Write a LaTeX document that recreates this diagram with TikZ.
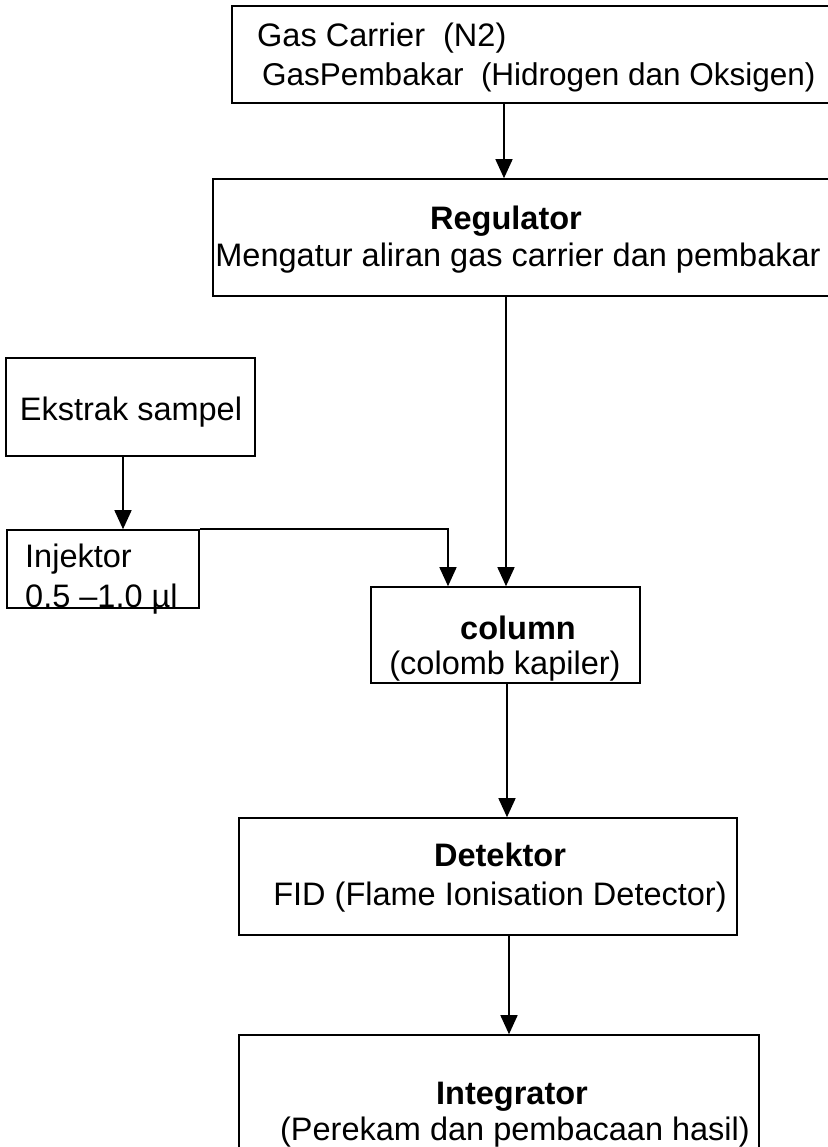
\documentclass[tikz,border=0pt]{standalone}
\usepackage{fontspec}
\setmainfont{Liberation Sans}
\usetikzlibrary{arrows.meta}
\begin{document}
\begin{tikzpicture}[x=1pt,y=-1pt,
  box/.style={draw,line width=1.6pt,rectangle,inner sep=0pt},
  txt/.style={inner sep=0pt,font=\fontsize{32.5}{37}\selectfont},
  hd/.style={txt,font=\fontsize{32.5}{37}\selectfont\bfseries},
  arr/.style={line width=1.5pt,-{Triangle[length=19pt,width=17pt]}},
  ln/.style={line width=1.5pt}]
\useasboundingbox[fill=white] (0,0) rectangle (827,1147);
% boxes
\node[box,minimum width=598,minimum height=97] (gas) at (531,54.5) {};
\node[box,minimum width=617,minimum height=117] (reg) at (521.5,237.5) {};
\node[box,minimum width=249,minimum height=98] (eks) at (130.5,407) {};
\node[box,minimum width=192,minimum height=78] (inj) at (103,569) {};
\node[box,minimum width=269,minimum height=96] (col) at (505.5,635) {};
\node[box,minimum width=498,minimum height=117] (det) at (488,876.5) {};
\node[box,minimum width=520,minimum height=125] (int) at (499,1097.5) {};
% texts
\node[txt,anchor=base west] (t1) at (257,47) {Gas Carrier\ \ (N2)};
\node[txt,anchor=base west,font=\fontsize{31.5}{37}\selectfont] (t2) at (262,86) {GasPembakar\ \ (Hidrogen dan Oksigen)};
\node[hd,anchor=base] (t3) at (506,230) {Regulator};
\node[txt,anchor=base] (t4) at (518,267) {Mengatur aliran gas carrier dan pembakar};
\node[txt,anchor=base] (t5) at (131,420) {Ekstrak sampel};
\node[txt,anchor=base west] (t6) at (25,567) {Injektor};
\node[txt,anchor=base west] (t7) at (25,607) {0.5 –1.0 µl};
\node[hd,anchor=base] (t8) at (518,639) {column};
\node[txt,anchor=base] (t9) at (505,674) {(colomb kapiler)};
\node[hd,anchor=base] (t10) at (500,866) {Detektor};
\node[txt,anchor=base] (t11) at (500,905) {FID (Flame Ionisation Detector)};
\node[hd,anchor=base] (t12) at (512,1104) {Integrator};
\node[txt,anchor=base] (t13) at (515,1140) {(Perekam dan pembacaan hasil)};
% arrow x positions
\coordinate (a1) at (504,0);
\coordinate (a2) at (506,0);
\coordinate (a0) at (123,0);
\coordinate (a3) at (448,0);
\coordinate (a4) at (507,0);
\coordinate (a5) at (509,0);
% connectors
\draw[arr] (gas.south -| a1) -- (reg.north -| a1);
\draw[arr] (reg.south -| a2) -- (col.north -| a2);
\draw[arr] (eks.south -| a0) -- (inj.north -| a0);
\draw[arr] (inj.north east) -| (col.north -| a3);
\draw[arr] (col.south -| a4) -- (det.north -| a4);
\draw[arr] (det.south -| a5) -- (int.north -| a5);
\end{tikzpicture}
\end{document}
